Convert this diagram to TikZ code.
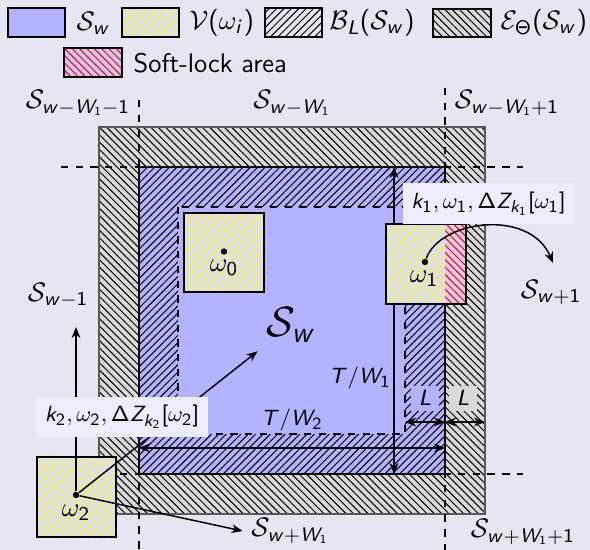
\documentclass[tikz,border=0pt]{standalone}
\usetikzlibrary{patterns,patterns.meta,arrows.meta}
\DeclareSymbolFont{sfit}{OT1}{cmss}{m}{sl}
\SetSymbolFont{operators}{normal}{OT1}{cmss}{m}{n}
\DeclareMathSymbol{w}{\mathalpha}{sfit}{`w}
\DeclareMathSymbol{W}{\mathalpha}{sfit}{`W}
\DeclareMathSymbol{k}{\mathalpha}{sfit}{`k}
\DeclareMathSymbol{Z}{\mathalpha}{sfit}{`Z}
\DeclareMathSymbol{T}{\mathalpha}{sfit}{`T}
\DeclareMathSymbol{L}{\mathalpha}{sfit}{`L}
\DeclareMathSymbol{i}{\mathalpha}{sfit}{`i}
\definecolor{bgc}{RGB}{230,230,243}
\definecolor{swc}{RGB}{179,179,255}
\definecolor{grc}{RGB}{217,217,217}
\definecolor{vfill}{RGB}{222,222,236}
\definecolor{slfill}{RGB}{205,200,245}
\definecolor{slfilltwo}{RGB}{222,205,238}
\definecolor{lblfill}{RGB}{237,237,252}
\tikzset{
  ereg/.style={preaction={fill=grc}, pattern=north west lines, draw=black!65, line width=0.6pt},
  blreg/.style={preaction={fill=swc}, pattern=north east lines, draw=black, line width=0.6pt},
  vreg/.style={preaction={fill=vfill}, pattern={Lines[angle=45,distance=2.7pt,line width=0.4pt]}, pattern color=yellow},
  slreg/.style={preaction={fill=slfilltwo}, pattern=north west lines, pattern color=red},
  legbox/.style={draw, line width=0.8pt, minimum width=23.3pt, minimum height=11.8pt, inner sep=0pt},
  wbox/.style={draw, line width=0.8pt, minimum width=32.6pt, minimum height=32.6pt, inner sep=0pt},
  dotn/.style={circle, fill=black, inner sep=0pt, minimum size=2.6pt},
  smallf/.style={font=\fontsize{9.4}{11}\selectfont},
  lbl/.style={smallf, fill=lblfill, inner sep=3.5pt},
  grid/.style={dashed, line width=0.6pt},
  arr/.style={line width=0.6pt},
}
\begin{document}
\begin{tikzpicture}[x=0.408pt,y=-0.408pt, >={Stealth[length=4.5pt,width=3.6pt]}, font=\fontsize{11}{13}\selectfont]
\path[use as bounding box, fill=bgc] (0,0) rectangle (590,550);
% legend
\node[legbox, fill=swc] (lb1) at (36.5,22.5) {};
\node[anchor=west] (lt1) at (68,23) {$\mathcal{S}_w$};
\node[legbox, vreg] (lb2) at (150.5,22.5) {};
\node[anchor=west] (lt2) at (181,23) {$\mathcal{V}(\omega_i)$};
\node[legbox, pattern=north east lines] (lb3) at (293.5,22.5) {};
\node[anchor=west] (lt3) at (321,23) {$\mathcal{B}_L(\mathcal{S}_w)$};
\node[legbox, preaction={fill=grc}, pattern=north west lines] (lb4) at (462,23) {};
\node[anchor=west] (lt4) at (492,23) {$\mathcal{E}_\Theta(\mathcal{S}_w)$};
\node[legbox, preaction={fill=slfill}, pattern=north west lines, pattern color=red] (lb5) at (93,62.5) {};
\node[anchor=west] (lt5) at (125,63) {\sffamily Soft-lock area};
% regions
\coordinate (E1) at (99,127); \coordinate (E2) at (485,514);
\coordinate (S1) at (139,167); \coordinate (S2) at (445,474);
\coordinate (I1) at (178,207); \coordinate (I2) at (405,434);
\draw[ereg] (E1) rectangle (E2);
\draw[blreg] (S1) rectangle (S2);
\draw[fill=swc, dashed, line width=0.6pt] (I1) rectangle (I2);
% grid lines
\draw[grid] (139,100) -- (139,550);
\draw[grid] (445,88) -- (445,550);
\draw[grid] (61,167) -- (523,167);
\draw[grid] (61,474) -- (523,474);
% dimension arrows
\draw[arr,<->] (394,167) -- (394,474);
\node[smallf] (tw1) at (360,378) {$T/W_1$};
\draw[arr,<->] (139,448) -- (445,448);
\node[smallf] (tw2) at (292,420) {$T/W_2$};
\draw[arr,<->] (405,422) -- (445,422);
\draw[arr,<->] (445,422) -- (485,422);
\node[smallf, fill=swc, minimum width=11.4pt, minimum height=10.2pt, inner sep=1pt] (la) at (425,398) {$L$};
\node[smallf, fill=grc, minimum width=11.4pt, minimum height=10.2pt, inner sep=1pt] (lb) at (463,398) {$L$};
% grid labels
\node (sa) at (78,103) {$\mathcal{S}_{w-W_1-1}$};
\node (sb) at (292,103) {$\mathcal{S}_{w-W_1}$};
\node (sc) at (507,103) {$\mathcal{S}_{w-W_1+1}$};
\node (swm1) at (58,295) {$\mathcal{S}_{w-1}$};
\node (sw1) at (551,292) {$\mathcal{S}_{w+1}$};
\node (swpw) at (290,531) {$\mathcal{S}_{w+W_1}$};
\node (swpw1) at (523,532) {$\mathcal{S}_{w+W_1+1}$};
\node[font=\LARGE] (swbig) at (291,325) {$\mathcal{S}_w$};
% omega_0
\node[wbox, vreg] (w0) at (224,252.5) {};
\node[dotn] (d0) at (224,251.5) {};
\node (t0) at (224,268) {$\omega_0$};
% omega_1
\path[vreg] (386,224) rectangle (445,304);
\path[slreg] (445,224) rectangle (466,304);
\node[wbox] (w1) at (426,264) {};
\node[dotn] (d1) at (425,262) {};
\node (t1) at (424,279) {$\omega_1$};
% omega_2
\node[wbox, vreg] (w2) at (76.5,497) {};
\node[dotn] (d2) at (76,495) {};
\node (t2) at (76,513) {$\omega_2$};
% connectors
\coordinate (u2) at (76,327);
\draw[arr,->] (d2) -- (u2);
\draw[arr,->] (d2) -- (swbig.south west);
\draw[arr,->] (d2) -- (swpw.west);
\coordinate (c1) at (553,263);
\draw[arr,->] (d1) .. controls (440,220) and (530,208) .. (c1);
% labels
\node[lbl] (k1) at (488.5,203.5) {$k_1, \omega_1, \Delta Z_{k_1}[\omega_1]$};
\node[lbl] (k2) at (122,417) {$k_2, \omega_2, \Delta Z_{k_2}[\omega_2]$};
\end{tikzpicture}
\end{document}
